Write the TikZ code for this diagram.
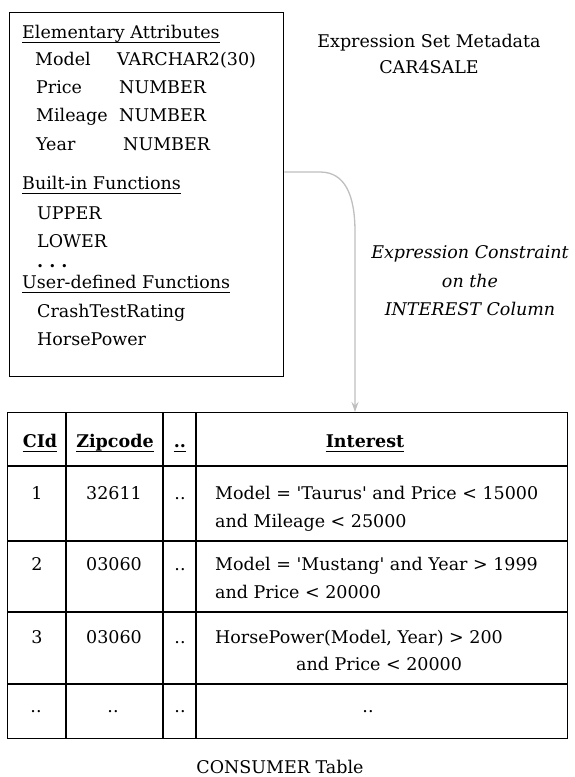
\documentclass[tikz,border=0pt]{standalone}
\usepackage{fontspec}
\setmainfont{DejaVu Serif}
\usetikzlibrary{arrows.meta}
\begin{document}
\begin{tikzpicture}[x=1pt,y=-1pt,
  every node/.style={inner sep=0pt, font=\fontsize{17.5}{21}\selectfont},
  lt/.style={anchor=base west},
  ct/.style={anchor=base},
  hd/.style={anchor=base, font=\fontsize{17.5}{21}\selectfont\bfseries},
  it/.style={anchor=base, font=\fontsize{17.5}{21}\selectfont\itshape},
  frame/.style={draw, line width=1.4pt},
  grid/.style={line width=1.4pt},
  ul/.style={line width=1pt},
  conn/.style={draw=black!25, line width=1.3pt, -{Stealth[length=10pt,width=7pt]}}]
\useasboundingbox (0,0) rectangle (574,777);
% metadata box
\node[frame, minimum width=274pt, minimum height=364pt, anchor=north west] (meta) at (9,12) {};
\node[lt] (ea) at (22,38) {Elementary Attributes};
\node[lt] (m1) at (35,65) {Model};   \node[lt] (t1) at (117,65) {VARCHAR2(30)};
\node[lt] (m2) at (36,93) {Price};   \node[lt] (t2) at (119,93) {NUMBER};
\node[lt] (m3) at (36,121) {Mileage}; \node[lt] (t3) at (119,121) {NUMBER};
\node[lt] (m4) at (36,150) {Year};   \node[lt] (t4) at (123,150) {NUMBER};
\node[lt] (bf) at (22,189) {Built-in Functions};
\node[lt] (f1) at (37,219) {UPPER};
\node[lt] (f2) at (37,247) {LOWER};
\node[lt] (f3) at (37,267) {\bfseries .\hspace{6pt}.\hspace{6pt}.};
\node[lt] (uf) at (22,288) {User-defined Functions};
\node[lt] (f4) at (37,317) {CrashTestRating};
\node[lt] (f5) at (37,345) {HorsePower};
\foreach \n in {ea,bf,uf}
  \draw[ul] ([yshift=-4pt]\n.base west) -- ([yshift=-4pt]\n.base east);
% titles
\node[ct] (ttl1) at (429,47) {Expression Set Metadata};
\node[ct] (ttl2) at (429,73) {CAR4SALE};
\node[it] (c1) at (470,258) {Expression Constraint};
\node[it] (c2) at (470,287) {on the};
\node[it] (c3) at (470,315) {INTEREST Column};
% table
\node[frame, minimum width=560pt, minimum height=326pt, anchor=north west] (tbl) at (7,412) {};
\draw[grid] (66,412) -- (66,738) (163,412) -- (163,738) (196,412) -- (196,738);
\draw[grid] (7,466) -- (567,466) (7,541) -- (567,541) (7,612) -- (567,612) (7,684) -- (567,684);
\node[hd] (h1) at (40,447) {CId};
\node[hd] (h2) at (115,447) {Zipcode};
\node[hd] (h3) at (180,447) {..};
\node[hd] (h4) at (365,447) {Interest};
\foreach \n in {h1,h2,h3,h4}
  \draw[ul] ([yshift=-4pt]\n.base west) -- ([yshift=-4pt]\n.base east);
\node[ct] (r1a) at (37,499) {1};
\node[ct] (r1b) at (114,499) {32611};
\node[ct] (r1c) at (180,499) {..};
\node[lt] (r1d) at (215,499) {Model = \textquotesingle Taurus\textquotesingle{} and Price < 15000};
\node[lt] (r1e) at (215,527) {and Mileage < 25000};
\node[ct] (r2a) at (37,570) {2};
\node[ct] (r2b) at (114,570) {03060};
\node[ct] (r2c) at (180,570) {..};
\node[lt] (r2d) at (215,570) {Model = \textquotesingle Mustang\textquotesingle{} and Year > 1999};
\node[lt] (r2e) at (215,598) {and Price < 20000};
\node[ct] (r3a) at (37,643) {3};
\node[ct] (r3b) at (114,643) {03060};
\node[ct] (r3c) at (180,643) {..};
\node[lt] (r3d) at (215,643) {HorsePower(Model, Year) > 200};
\node[lt] (r3e) at (296,670) {and Price < 20000};
\node[ct] (r4a) at (36,712) {..};
\node[ct] (r4b) at (113,712) {..};
\node[ct] (r4c) at (180,712) {..};
\node[ct] (r4d) at (368,712) {..};
\node[ct] (cap) at (280,773) {CONSUMER Table};
% connector
\coordinate (src) at (meta.east |- 0,172);
\coordinate (dst) at (tbl.north -| 355,0);
\draw[conn] (src) -- (320,172) .. controls (345,172) and (355,195) .. (355,232) -- (dst);
\end{tikzpicture}
\end{document}
